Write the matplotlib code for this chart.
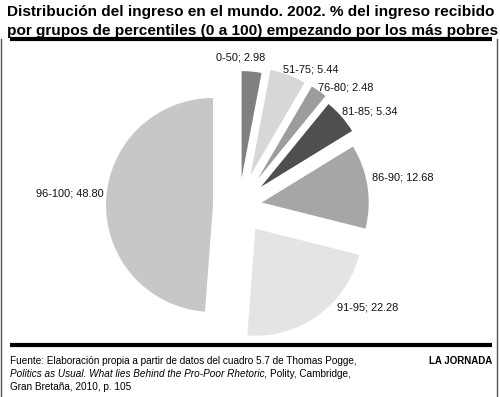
import matplotlib
matplotlib.use("Agg")
import matplotlib.pyplot as plt

groups = ["0-50", "51-75", "76-80", "81-85", "86-90", "91-95", "96-100"]
shares = [2.98, 5.44, 2.48, 5.34, 12.68, 22.28, 48.80]
colors = ["#808080", "#d7d7d7", "#9c9c9c", "#4f4f4f", "#a6a6a6", "#e4e4e4", "#c6c7c9"]
# offsets in pixels (pie adds explode straight to the centre)
explode = [28, 33, 33, 29, 23, 28, 26]

# label positions in pixels from top-left
label_xy = [(216, 58), (283, 70), (318, 87), (342, 111), (372, 178), (337, 308), (36, 193)]

W, H = 500, 397
fig = plt.figure(figsize=(5, 3.97), dpi=100)
ax = fig.add_axes([0, 0, 1, 1])

ax.pie(shares, colors=colors, explode=explode, startangle=90, counterclock=False,
       center=(239, H - 206), radius=107, wedgeprops={"linewidth": 0})
ax.set_aspect("auto")
ax.set_xlim(0, W)
ax.set_ylim(0, H)
ax.axis("off")

for g, v, (x, y) in zip(groups, shares, label_xy):
    ax.text(x, H - y, f"{g}; {v:.2f}", fontsize=7.9, family="Liberation Sans",
            ha="left", va="center", color="#111111")

# title
ax.text(7, H - 12, "Distribución del ingreso en el mundo. 2002. % del ingreso recibido",
        fontsize=11.1, family="Liberation Sans", weight="bold", ha="left", va="center")
ax.text(7, H - 31, "por grupos de percentiles (0 a 100) empezando por los más pobres",
        fontsize=11.1, family="Liberation Sans", weight="bold", ha="left", va="center")

# rules and frame
ax.plot([10, 492], [H - 39, H - 39], color="black", lw=3, solid_capstyle="butt")
ax.plot([10, 492], [H - 345, H - 345], color="black", lw=3, solid_capstyle="butt")
ax.plot([1, 1], [0, H - 39], color="#555555", lw=1)
ax.plot([497, 497], [0, H - 39], color="#555555", lw=1)

# footer
fs = 7.2
ax.text(10, H - 361, "Fuente: Elaboración propia a partir de datos del cuadro 5.7 de Thomas Pogge,",
        fontsize=fs, family="Liberation Sans", ha="left", va="center")
t = ax.text(10, H - 374, "Politics as Usual. What lies Behind the Pro-Poor Rhetoric,",
            fontsize=fs, family="Liberation Sans", style="italic", ha="left", va="center")
fig.canvas.draw()
bb = t.get_window_extent(renderer=fig.canvas.get_renderer())
ax.text(bb.x1 + 3, H - 374, "Polity, Cambridge,",
        fontsize=fs, family="Liberation Sans", ha="left", va="center")
ax.text(10, H - 387, "Gran Bretaña, 2010, p. 105",
        fontsize=fs, family="Liberation Sans", ha="left", va="center")
ax.text(492, H - 361, "LA JORNADA", fontsize=7, family="Liberation Sans",
        weight="bold", ha="right", va="center")

fig.savefig("out.png", dpi=100)
